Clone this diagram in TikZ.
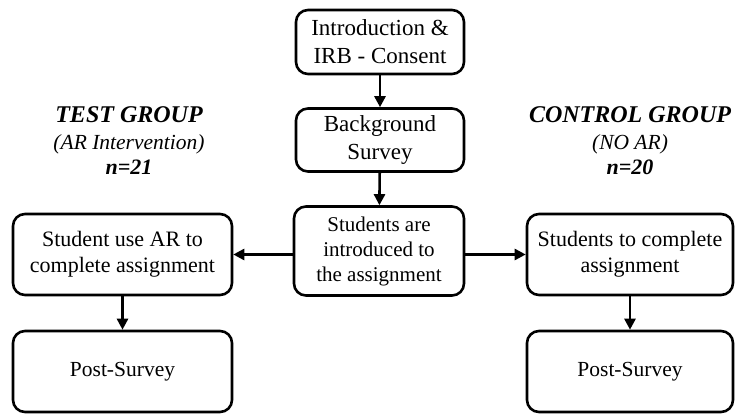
\documentclass[tikz,border=0pt]{standalone}
\usepackage{fontspec}
\setmainfont{Liberation Serif}
\usetikzlibrary{arrows.meta}
\tikzstyle{box}=[fill=white, draw=black, shape=rectangle, rounded corners=12pt, line width=2.6pt, align=center, inner sep=2pt]
\tikzstyle{arr}=[line width=2.6pt, -{Triangle[length=11pt,width=11pt]}]
\tikzstyle{grp}=[anchor=base, inner sep=0pt]

\begin{document}
\begin{tikzpicture}[x=1pt, y=-1pt]
		\useasboundingbox (0, 0) rectangle (736, 414);
		\node [style=box, minimum width=168pt, minimum height=64pt, font=\fontsize{23}{28}\selectfont] (1) at (380, 42) {Introduction \&\\IRB - Consent};
		\node [style=box, minimum width=168pt, minimum height=63pt, font=\fontsize{23}{28}\selectfont] (2) at (380, 140) {Background\\Survey};
		\node [style=box, minimum width=170pt, minimum height=89pt, font=\fontsize{21}{25}\selectfont] (3) at (379, 251) {Students are\\introduced to\\the assignment};

		\node [style=box, minimum width=219pt, minimum height=81pt, font=\fontsize{22}{26}\selectfont] (4) at (122.5, 254.5) {Student use AR to\\complete assignment};
		\node [style=box, minimum width=219pt, minimum height=81pt, font=\fontsize{21.5}{26}\selectfont] (5) at (122.5, 371.5) {Post-Survey};
		\node [style=box, minimum width=206pt, minimum height=81pt, font=\fontsize{22}{26}\selectfont] (6) at (630, 254.5) {Students to complete\\assignment};
		\node [style=box, minimum width=206pt, minimum height=81pt, font=\fontsize{21.5}{26}\selectfont] (7) at (630, 371.5) {Post-Survey};

		\node [style=grp, font=\fontsize{24}{28}\selectfont\bfseries\itshape] (10) at (129, 123) {TEST GROUP};
		\node [style=grp, font=\fontsize{21.5}{26}\selectfont\itshape] (11) at (129, 150) {(AR Intervention)};
		\node [style=grp, font=\fontsize{22}{26}\selectfont\bfseries\itshape] (12) at (129, 175) {n=21};
		\node [style=grp, font=\fontsize{24}{28}\selectfont\bfseries\itshape] (20) at (630, 123) {CONTROL GROUP};
		\node [style=grp, font=\fontsize{21.5}{26}\selectfont\itshape] (21) at (630, 150) {(NO AR)};
		\node [style=grp, font=\fontsize{22}{26}\selectfont\bfseries\itshape] (22) at (630, 175) {n=20};

		\draw [style=arr] (1) to (2);
		\draw [style=arr] (2) to (3);
		\draw [style=arr] (3.west |- 4.east) to (4.east);
		\draw [style=arr] (3.east |- 6.west) to (6.west);
		\draw [style=arr] (4) to (5);
		\draw [style=arr] (6) to (7);
	\end{tikzpicture}
\end{document}
